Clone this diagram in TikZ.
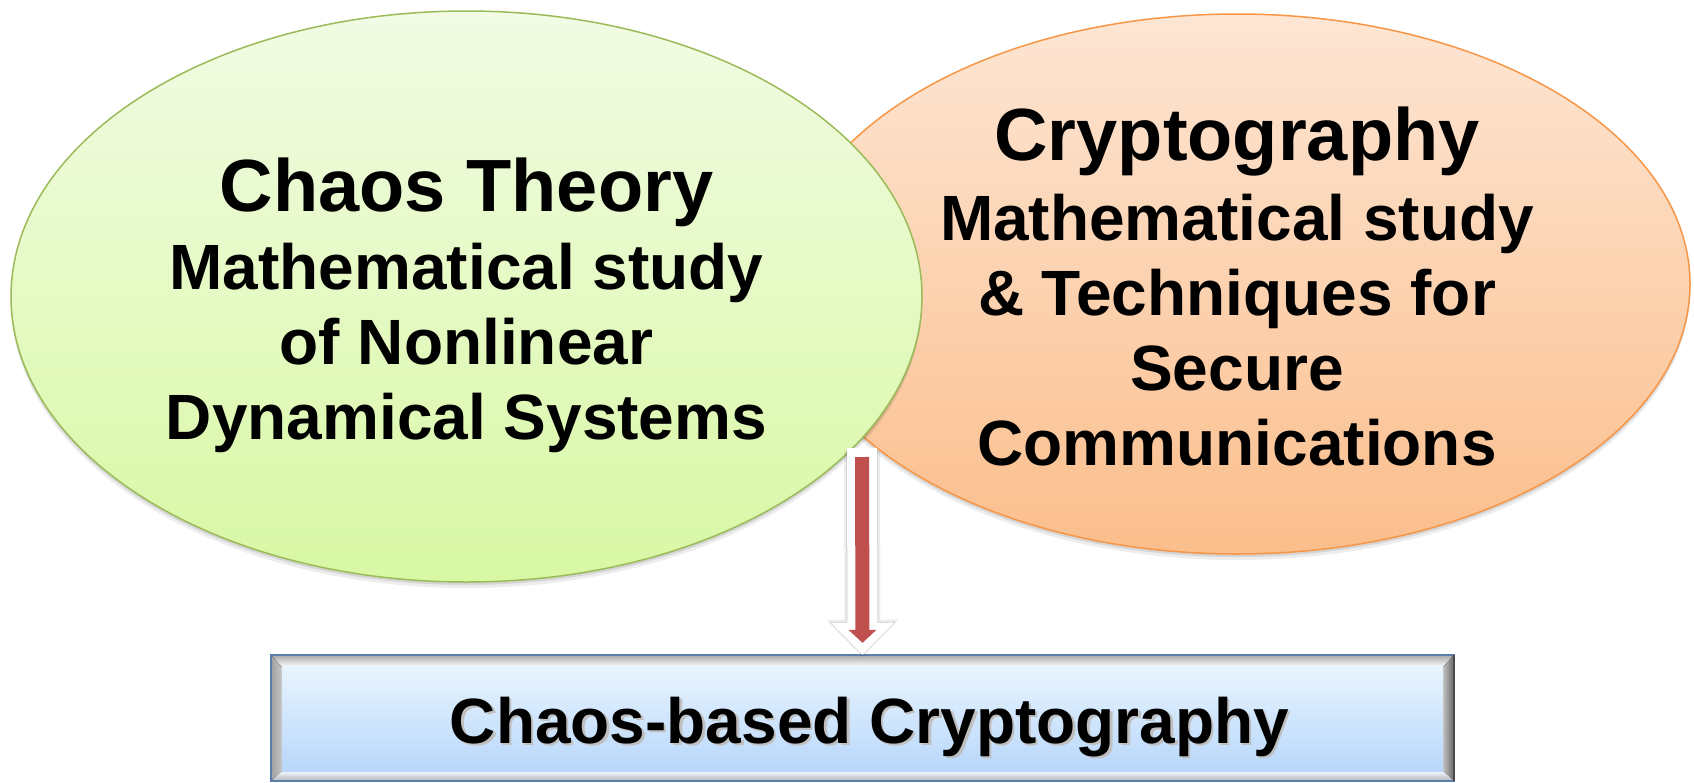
\documentclass[tikz,border=0pt]{standalone}
\usepackage{fontspec}
\setmainfont{Liberation Sans}
\usetikzlibrary{arrows.meta,positioning,shapes.geometric,calc}

\definecolor{chaostop}{HTML}{F2FBE4}
\definecolor{chaosbot}{HTML}{D8F8A4}
\definecolor{chaosedge}{HTML}{9BBB59}
\definecolor{cryptotop}{HTML}{FDE6D4}
\definecolor{cryptobot}{HTML}{FBBE8C}
\definecolor{cryptoedge}{HTML}{F79646}
\definecolor{boxtop}{HTML}{E8F4FE}
\definecolor{boxbot}{HTML}{B8D7FB}
\definecolor{boxedge}{HTML}{5B7DA8}
\definecolor{arrowred}{HTML}{C0504D}

\tikzset{
  oval/.style={draw,ellipse,line width=1.5pt,inner sep=0pt},
  ovaltext/.style={align=center,font=\bfseries\fontsize{64}{75}\selectfont},
  boxtext/.style={anchor=base,font=\bfseries\fontsize{64}{75}\selectfont},
}

\begin{document}
\begin{tikzpicture}[x=1pt,y=-1pt]
\useasboundingbox (0,0) rectangle (1694,782);

% soft shadows under the ovals
\fill[black,opacity=.07] (1237,290) ellipse [x radius=453pt,y radius=270pt];
\fill[black,opacity=.10] (1237,287) ellipse [x radius=453pt,y radius=270pt];
\node[oval,draw=cryptoedge,top color=cryptotop,bottom color=cryptobot,
  minimum width=906pt,minimum height=540pt] (crypto) at (1237,284) {};

\fill[black,opacity=.07] (466.5,302.5) ellipse [x radius=455.5pt,y radius=285.5pt];
\fill[black,opacity=.10] (466.5,299.5) ellipse [x radius=455.5pt,y radius=285.5pt];
\node[oval,draw=chaosedge,top color=chaostop,bottom color=chaosbot,
  minimum width=911pt,minimum height=571pt] (chaos) at (466.5,296.5) {};

\node[ovaltext] (chaostxt) at ([yshift=-9pt]chaos.center)
  {{\fontsize{74}{75}\selectfont Chaos Theory}\\[3pt]
   Mathematical study\\ of Nonlinear\\ Dynamical Systems};
\node[ovaltext] (cryptotxt) at ([yshift=-2pt]crypto.center)
  {{\fontsize{74}{75}\selectfont Cryptography}\\[5pt]
   Mathematical study\\ \& Techniques for\\ Secure\\ Communications};

% bevelled result box
\node[minimum width=1183pt,minimum height=126pt,fill=gray!55] (result) at (862.5,718) {};
\coordinate (inNW) at ($(result.north west)+(11,12)$);
\coordinate (inNE) at ($(result.north east)+(-11,12)$);
\coordinate (inSW) at ($(result.south west)+(11,-10)$);
\coordinate (inSE) at ($(result.south east)+(-11,-10)$);
\fill[top color=gray!70,bottom color=white] (result.north west) -- (result.north east) -- (inNE) -- (inNW) -- cycle;
\fill[left color=gray!75,right color=gray!45] (result.north west) -- (inNW) -- (inSW) -- (result.south west) -- cycle;
\fill[left color=gray!50,right color=black!60] (result.north east) -- (inNE) -- (inSE) -- (result.south east) -- cycle;
\fill[top color=boxtop!60!white,bottom color=gray!60] (result.south west) -- (inSW) -- (inSE) -- (result.south east) -- cycle;
\fill[top color=boxtop,bottom color=boxbot] (inNW) rectangle (inSE);
\draw[boxedge,line width=1.5pt] (result.north west) rectangle (result.south east);
\draw[black!70,line width=1.5pt] (result.north east) -- (result.south east);

\node[boxtext,text=black!25] (resultshadow) at ([xshift=9.5pt,yshift=-27.5pt]result.center) {Chaos-based Cryptography};
\node[boxtext] (resulttxt) at ([xshift=7pt,yshift=-25pt]result.center) {Chaos-based Cryptography};

% block arrow down to the box
\coordinate (arrowtop) at (862,448);
\draw[line width=36pt,black,opacity=.07,-{Triangle[width=72pt,length=37pt,line width=0pt]}]
  ([yshift=-3pt]arrowtop) -- ([yshift=-2pt]result.north);
\draw[line width=32pt,black,opacity=.10,-{Triangle[width=67pt,length=34pt,line width=0pt]}]
  ([yshift=-2pt]arrowtop) -- ([yshift=-1pt]result.north);
\draw[line width=30pt,white,-{Triangle[width=63pt,length=32pt,line width=0pt]}]
  (arrowtop) -- (result.north);
\draw[line width=14pt,arrowred,-{Triangle[width=28pt,length=13pt,line width=0pt]}]
  ([yshift=-9pt]arrowtop) -- ([yshift=12pt]result.north);
\end{tikzpicture}
\end{document}
